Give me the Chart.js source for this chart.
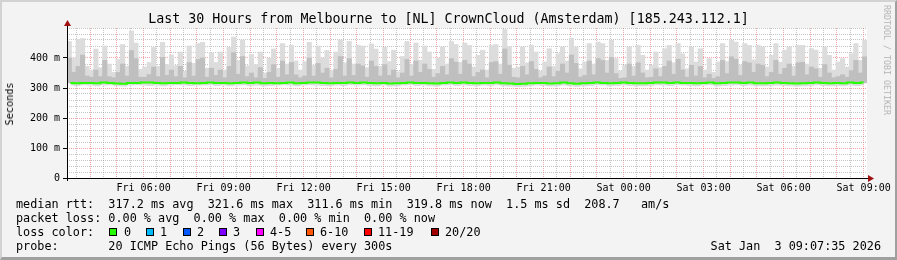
<!DOCTYPE html>
<html>
<head>
<meta charset="utf-8">
<script src="https://cdn.jsdelivr.net/npm/chart.js@4.4.1/dist/chart.umd.min.js"></script>
<style>
  body { margin: 0; background: #f3f3f3; }
  #wrap { position: relative; width: 897px; height: 260px; overflow: hidden; }
  #frame { position: absolute; left: 0; top: 0; width: 897px; height: 260px; box-sizing: border-box;
           border-style: solid; border-width: 2px 2px 3px 2px; border-color: #d2d2d2 #a0a0a0 #a0a0a0 #d2d2d2; pointer-events: none; }
  canvas { position: absolute; left: 0; top: 0; }
  .t { position: absolute; font-family: 'DejaVu Sans Mono', monospace; color: #000; white-space: pre; }
  .leg { left: 16px; font-size: 11.8px; line-height: 14px; }
  .box { position: absolute; width: 8px; height: 8px; box-sizing: border-box; border: 1px solid #000; top: 228px; }
</style>
</head>
<body>
<div id="wrap">
  <canvas id="smoke" width="897" height="260"></canvas>
  <div class="t" style="left:0;width:897px;top:11px;text-align:center;font-size:13.3px;line-height:16px;">Last 30 Hours from Melbourne to [NL] CrownCloud (Amsterdam) [185.243.112.1]</div>
  <div class="t" style="left:10px;top:104px;font-size:10.2px;line-height:12px;transform:translate(-50%,-50%) rotate(-90deg);">Seconds</div>
  <div class="t" style="left:887px;top:60px;font-size:8.3px;line-height:10px;color:#b4b4b4;transform:translate(-50%,-50%) rotate(90deg);">RRDTOOL / TOBI OETIKER</div>
  <div class="t leg" style="top:197px;">median rtt:  317.2 ms avg  321.6 ms max  311.6 ms min  319.8 ms now  1.5 ms sd  208.7   am/s</div>
  <div class="t leg" style="top:211px;">packet loss: 0.00 % avg  0.00 % max  0.00 % min  0.00 % now</div>
  <div class="t leg" style="top:225px;">loss color:</div>
  <div class="t leg" style="top:239px;">probe:       20 ICMP Echo Pings (56 Bytes) every 300s</div>
  <div class="t" style="right:16px;top:239px;font-size:11.8px;line-height:14px;">Sat Jan  3 09:07:35 2026</div>
  <div id="frame"></div>
</div>
<script>
// slowest and upper quartile ping (ms), one value per 10 minutes, Fri 03:07 -> Sat 09:07
var pingMax = [455, 400, 462, 465, 372, 360, 430, 368, 440, 380, 352, 395, 445, 372, 490, 450, 362, 370,
               385, 435, 372, 452, 378, 410, 375, 420, 356, 440, 382, 448, 452, 366, 418, 385, 420, 360,
               436, 470, 392, 460, 374, 412, 378, 420, 350, 400, 430, 366, 448, 380, 442, 390, 360, 388,
               452, 376, 440, 400, 425, 358, 420, 460, 384, 455, 380, 442, 440, 368, 447, 430, 372, 436,
               388, 426, 354, 405, 455, 378, 450, 392, 440, 420, 362, 400, 437, 380, 455, 445, 386, 450,
               442, 370, 409, 426, 360, 442, 445, 380, 495, 437, 366, 370, 437, 384, 442, 420, 356, 387,
               431, 372, 414, 437, 390, 466, 437, 364, 387, 448, 380, 453, 448, 392, 459, 398, 356, 376,
               437, 372, 442, 409, 360, 376, 420, 368, 431, 442, 384, 448, 414, 364, 437, 387, 431, 360,
               398, 352, 387, 448, 388, 459, 453, 376, 448, 442, 394, 442, 437, 370, 409, 448, 386, 426,
               437, 372, 442, 442, 380, 431, 426, 366, 437, 409, 360, 387, 398, 370, 414, 448, 392, 459];
var pingQ3 = [400, 352, 372, 410, 340, 336, 360, 338, 392, 338, 334, 352, 380, 340, 425, 398, 336, 336,
              345, 370, 338, 402, 342, 360, 338, 372, 334, 385, 340, 395, 400, 336, 366, 342, 360, 334,
              372, 418, 346, 405, 338, 350, 334, 368, 332, 352, 378, 336, 390, 344, 385, 344, 334, 340,
              400, 340, 382, 350, 366, 334, 362, 405, 340, 398, 342, 380, 374, 336, 390, 372, 340, 378,
              342, 360, 334, 350, 395, 340, 390, 352, 380, 362, 336, 348, 372, 344, 398, 386, 346, 392,
              380, 338, 352, 360, 334, 385, 388, 346, 430, 376, 336, 334, 372, 344, 388, 362, 334, 340,
              370, 338, 356, 380, 350, 410, 382, 336, 342, 390, 344, 398, 392, 350, 402, 348, 332, 334,
              380, 340, 384, 350, 334, 336, 364, 338, 372, 390, 346, 396, 360, 336, 376, 340, 372, 334,
              346, 332, 338, 392, 348, 404, 396, 342, 388, 384, 352, 380, 376, 338, 352, 392, 346, 366,
              380, 340, 384, 386, 344, 370, 364, 336, 378, 350, 334, 338, 344, 336, 358, 392, 350, 404];
// fastest ping, top of the continuous smoke floor and median rtt (ms), one value per 15 minutes
var pingLow = [338, 345, 350, 332, 340, 342, 335, 336, 344, 352, 346, 334, 338, 340, 348, 342, 334, 340, 345, 346,
               350, 340, 336, 342, 344, 354, 350, 338, 333, 340, 336, 342, 348, 346, 336, 335, 350, 346, 338, 342,
               340, 352, 348, 344, 342, 346, 340, 344, 334, 338, 336, 350, 348, 344, 340, 336, 345, 350, 346, 348,
               344, 338, 340, 346, 348, 356, 342, 332, 340, 346, 338, 334, 342, 338, 344, 352, 344, 334, 348, 350,
               348, 352, 336, 332, 344, 346, 338, 333, 340, 342, 346, 350, 338, 344, 334, 342, 336, 334, 348, 352,
               350, 346, 344, 344, 342, 336, 348, 340, 344, 346, 346, 342, 340, 344, 336, 332, 336, 338, 348, 352];
var pingMin = [308, 307, 309, 308, 306, 308, 309, 307, 305, 308, 309, 308, 307, 308, 306, 308, 309, 308, 307, 308,
               308, 309, 307, 308, 306, 308, 309, 307, 308, 306, 307, 308, 309, 308, 306, 308, 309, 308, 307, 306,
               308, 307, 309, 308, 309, 307, 306, 308, 305, 306, 308, 309, 307, 308, 306, 305, 308, 309, 307, 308,
               307, 306, 308, 307, 309, 306, 305, 303, 304, 306, 308, 307, 305, 306, 308, 306, 304, 306, 307, 309,
               308, 306, 307, 308, 307, 306, 306, 307, 309, 308, 307, 309, 308, 307, 306, 308, 309, 306, 307, 308,
               309, 307, 308, 306, 306, 307, 308, 307, 306, 305, 306, 307, 309, 307, 306, 307, 306, 308, 307, 308];
var medianRtt = [317, 316, 317, 317, 316, 318, 317, 315, 314, 317, 317, 318, 318, 317, 316, 317, 317, 318, 317, 316,
                 317, 318, 317, 317, 316, 317, 318, 317, 318, 316, 317, 316, 317, 318, 316, 317, 318, 318, 317, 316,
                 317, 317, 318, 317, 318, 317, 316, 317, 315, 316, 317, 318, 317, 317, 316, 315, 317, 318, 317, 318,
                 317, 316, 317, 317, 318, 316, 315, 313, 314, 316, 317, 317, 315, 316, 318, 316, 314, 316, 317, 318,
                 317, 316, 317, 318, 317, 316, 316, 317, 318, 318, 317, 318, 317, 317, 316, 317, 318, 316, 317, 318,
                 318, 317, 318, 316, 316, 317, 318, 317, 316, 315, 316, 317, 318, 317, 316, 317, 316, 318, 317, 318];

// x axis in minutes since Fri 00:00
var startMinute = 187.6;
var xLabelMinutes = [360, 540, 720, 900, 1080, 1260, 1440, 1620, 1800, 1980];
var xLabels = ['Fri 06:00', 'Fri 09:00', 'Fri 12:00', 'Fri 15:00', 'Fri 18:00', 'Fri 21:00', 'Sat 00:00', 'Sat 03:00', 'Sat 06:00', 'Sat 09:00'];
var yLabelValues = [0, 100, 200, 300, 400];
var yLabels = ['0', '100 m', '200 m', '300 m', '400 m'];

var lossColors = ['#26ff00', '#00b8ff', '#0059ff', '#7e00ff', '#ff00ff', '#ff5500', '#ff0000', '#a10000'];
var lossLabels = ['0', '1', '2', '3', '4-5', '6-10', '11-19', '20/20'];
var boxX = [109, 146, 183, 219, 256, 306, 364, 431];
var labelX = [124, 160, 197, 233, 270, 320, 378, 445];

var wrap = document.getElementById('wrap');
for (var k = 0; k < lossColors.length; k++) {
    var b = document.createElement('div');
    b.className = 'box';
    b.style.left = boxX[k] + 'px';
    b.style.background = lossColors[k];
    wrap.appendChild(b);
    var l = document.createElement('div');
    l.className = 't leg';
    l.style.left = labelX[k] + 'px';
    l.style.top = '225px';
    l.textContent = lossLabels[k];
    wrap.appendChild(l);
}

function points(values, step) {
    return values.map(function (v, i) { return { x: startMinute + step * (i + 0.5), y: v }; });
}

var minorGrid = 'rgba(140,140,140,0.5)';
var majorGrid = 'rgba(230,60,60,0.45)';

var rrdFrame = {
    id: 'rrdFrame',
    beforeDraw: function (chart) {
        var a = chart.chartArea, c = chart.ctx;
        c.save();
        c.fillStyle = '#ffffff';
        c.fillRect(a.left, a.top, a.right - a.left, a.bottom - a.top);
        c.restore();
    },
    afterDraw: function (chart) {
        var a = chart.chartArea, c = chart.ctx;
        c.save();
        c.strokeStyle = '#000';
        c.lineWidth = 1;
        c.beginPath();
        c.moveTo(a.left + 0.5, a.bottom + 3);
        c.lineTo(a.left + 0.5, a.top - 4);
        c.moveTo(a.left - 4, a.bottom + 0.5);
        c.lineTo(a.right + 2, a.bottom + 0.5);
        c.stroke();
        c.fillStyle = '#a01010';
        c.beginPath();
        c.moveTo(a.left - 3, a.top - 2);
        c.lineTo(a.left + 4, a.top - 2);
        c.lineTo(a.left + 0.5, a.top - 8);
        c.closePath();
        c.fill();
        c.beginPath();
        c.moveTo(a.right + 1, a.bottom - 3);
        c.lineTo(a.right + 1, a.bottom + 4);
        c.lineTo(a.right + 7, a.bottom + 0.5);
        c.closePath();
        c.fill();
        c.restore();
    }
};

var ctx = document.getElementById('smoke').getContext('2d');
var chart = new Chart(ctx, {
    data: {
        datasets: [{
            type: 'line',
            data: points(pingMin, 15),
            borderWidth: 0,
            pointRadius: 0,
            stepped: 'middle',
            fill: false,
            order: 6
        }, {
            type: 'line',
            data: points(pingLow, 15),
            borderWidth: 0,
            pointRadius: 0,
            stepped: 'middle',
            fill: '-1',
            backgroundColor: '#dcdcdc',
            order: 5
        }, {
            type: 'bar',
            data: points(pingMax, 10),
            base: 318,
            backgroundColor: '#dcdcdc',
            barPercentage: 1,
            categoryPercentage: 1,
            grouped: false,
            order: 3
        }, {
            type: 'bar',
            data: points(pingQ3, 10),
            base: 317,
            backgroundColor: '#bfbfbf',
            barPercentage: 1,
            categoryPercentage: 1,
            grouped: false,
            order: 2
        }, {
            type: 'line',
            data: points(medianRtt, 15),
            borderColor: '#26ff00',
            borderWidth: 2,
            pointRadius: 0,
            stepped: 'middle',
            fill: false,
            order: 1
        }]
    },
    options: {
        responsive: false,
        animation: false,
        layout: { padding: { left: 0, top: 28, right: 30, bottom: 62 } },
        plugins: { legend: { display: false }, tooltip: { enabled: false } },
        scales: {
            x: {
                type: 'linear',
                min: startMinute,
                max: startMinute + 1800,
                offset: false,
                z: 1,
                afterBuildTicks: function (s) {
                    var t = [];
                    for (var m = 210; m <= 1980; m += 30) t.push({ value: m });
                    s.ticks = t;
                },
                afterFit: function (s) {
                    s.height = 20;
                    s.paddingLeft = 0;
                    s.paddingRight = 0;
                },
                grid: {
                    offset: false,
                    drawTicks: false,
                    color: function (c) { return c.tick && c.tick.value % 60 === 0 ? majorGrid : minorGrid; }
                },
                border: { display: false, dash: [1, 1] },
                ticks: {
                    autoSkip: false,
                    maxRotation: 0,
                    minRotation: 0,
                    padding: 4,
                    color: '#000',
                    font: { family: 'DejaVu Sans Mono', size: 10 },
                    callback: function (v) {
                        var i = xLabelMinutes.indexOf(v);
                        return i >= 0 ? xLabels[i] : '';
                    }
                }
            },
            y: {
                min: 0,
                max: 500,
                z: 1,
                afterBuildTicks: function (s) {
                    var t = [];
                    for (var v = 0; v <= 500; v += 20) t.push({ value: v });
                    s.ticks = t;
                },
                afterFit: function (s) {
                    s.width = 67;
                    s.paddingTop = 0;
                    s.paddingBottom = 0;
                },
                grid: {
                    tickLength: 4,
                    color: function (c) { return c.tick && c.tick.value % 100 === 0 && c.tick.value < 500 ? majorGrid : minorGrid; },
                    tickColor: function (c) { return c.tick && yLabelValues.indexOf(c.tick.value) >= 0 ? '#000' : 'rgba(0,0,0,0)'; }
                },
                border: { display: false, dash: [1, 1] },
                ticks: {
                    autoSkip: false,
                    padding: 3,
                    color: '#000',
                    font: { family: 'DejaVu Sans Mono', size: 10 },
                    callback: function (v) {
                        var i = yLabelValues.indexOf(v);
                        return i >= 0 ? yLabels[i] : '';
                    }
                }
            }
        }
    },
    plugins: [rrdFrame]
});
</script>
</body>
</html>
